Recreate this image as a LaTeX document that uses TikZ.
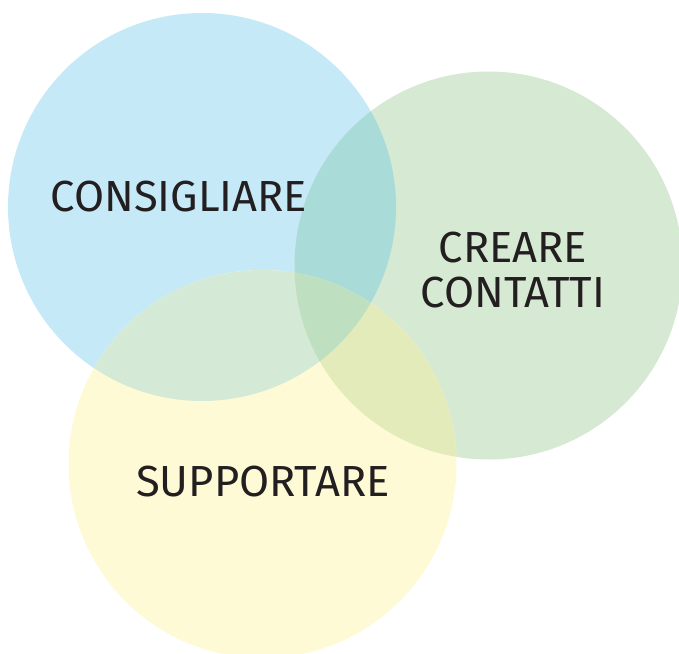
\documentclass[tikz,border=0pt]{standalone}
\usepackage{fontspec}
\setmainfont{Fira Sans}
\definecolor{cblue}{HTML}{C6E9F8}
\definecolor{cgreen}{HTML}{D6E9D3}
\definecolor{cyellow}{HTML}{FFFAD6}
\definecolor{cbg}{HTML}{A9DBD9}
\definecolor{cby}{HTML}{D4EAD7}
\definecolor{cgy}{HTML}{E2EBB9}
\definecolor{call}{HTML}{BEDFC0}
\definecolor{ctext}{HTML}{231F20}
\tikzset{
  lbl/.style={text=ctext, inner sep=0pt, align=center, font=\fontsize{43.5}{45}\selectfont}
}
\begin{document}
\begin{tikzpicture}[x=1pt,y=-1pt]
\useasboundingbox (0,0) rectangle (679,653);
\clip (0,0) rectangle (679,653);
\coordinate (B) at (202,207);
\coordinate (G) at (488.5,265.5);
\coordinate (Y) at (262.5,464);
\def\rr{194}
% base circles
\fill[cblue] (B) circle (\rr);
\fill[cgreen] (G) circle (\rr);
\fill[cyellow] (Y) circle (\rr);
% pairwise overlaps
\begin{scope}
  \clip (B) circle (\rr);
  \fill[cbg] (G) circle (\rr);
  \fill[cby] (Y) circle (\rr);
\end{scope}
\begin{scope}
  \clip (G) circle (\rr);
  \fill[cgy] (Y) circle (\rr);
\end{scope}
% triple overlap
\begin{scope}
  \clip (B) circle (\rr);
  \clip (G) circle (\rr);
  \fill[call] (Y) circle (\rr);
\end{scope}
% labels
\node[lbl] (consigliare) at (179,196.5) {CONSIGLIARE};
\node[lbl] (creare) at (513,270) {CREARE\\CONTATTI};
\node[lbl] (supportare) at (263,482) {SUPPORTARE};
\end{tikzpicture}
\end{document}
